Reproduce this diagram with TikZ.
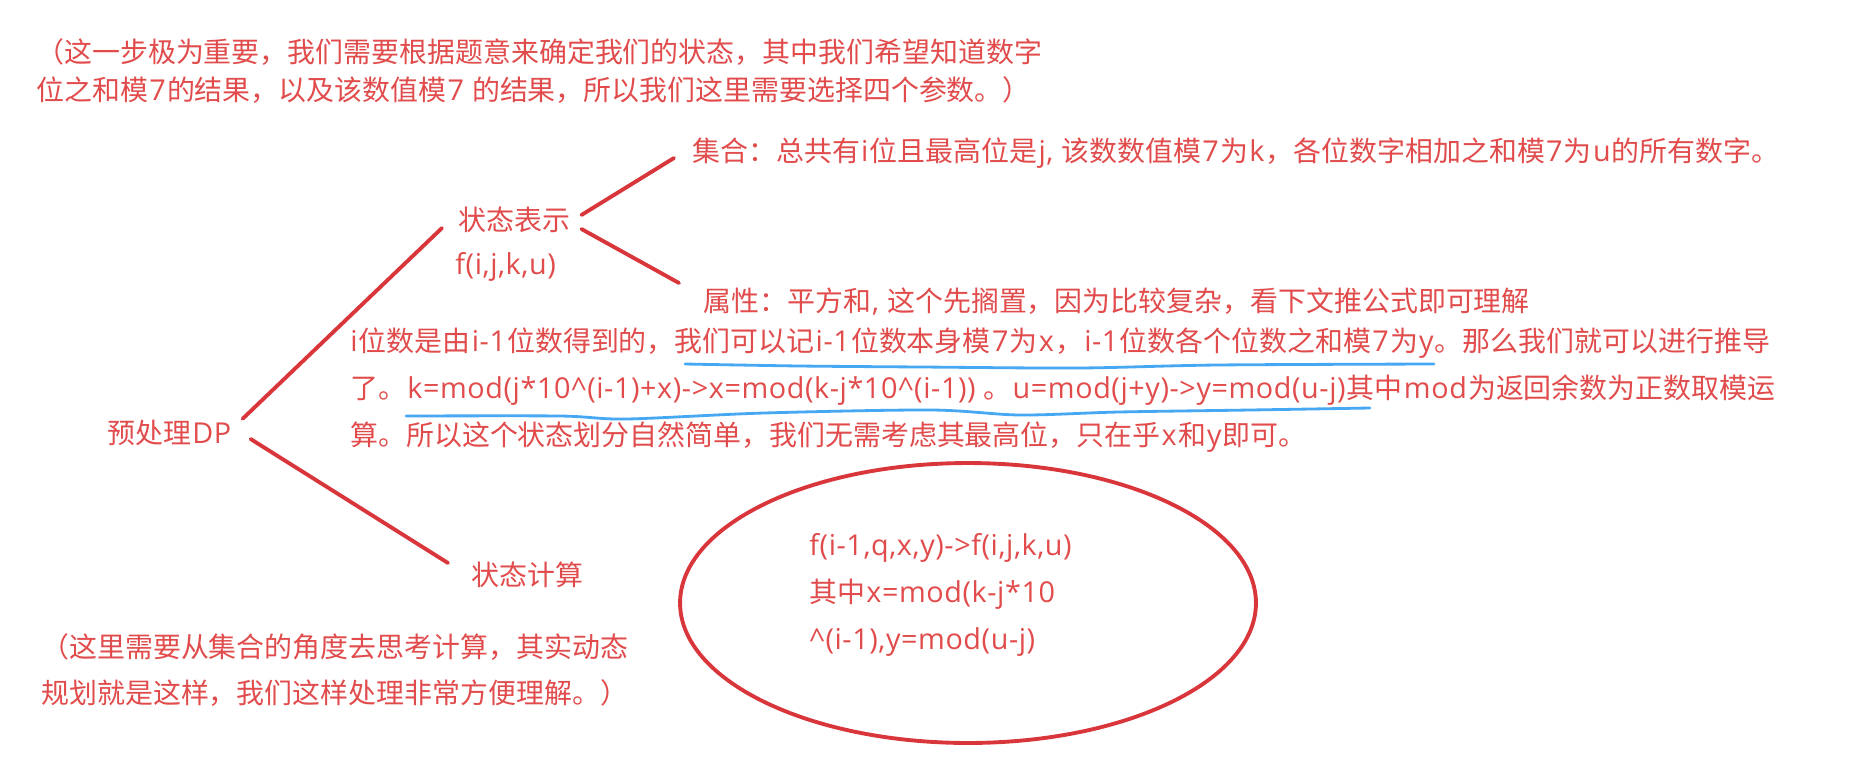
\documentclass[tikz,border=0pt]{standalone}
\usepackage{fontspec}
\setmainfont[Scale=1.03, LetterSpace=2]{Open Sans}
\newfontfamily\hanzi{Noto Sans CJK SC}
\usetikzlibrary{shapes.geometric}

% switch to the CJK face for Chinese characters and back for Latin ones
\XeTeXinterchartokenstate=1
\newXeTeXintercharclass\hanzicls
\newcount\hz
\hz="3000 \loop\XeTeXcharclass\hz=\hanzicls\ifnum\hz<"303F \advance\hz by 1 \repeat
\hz="4E00 \loop\XeTeXcharclass\hz=\hanzicls\ifnum\hz<"9FFF \advance\hz by 1 \repeat
\hz="FF00 \loop\XeTeXcharclass\hz=\hanzicls\ifnum\hz<"FFEF \advance\hz by 1 \repeat
\XeTeXinterchartoks 0 \hanzicls = {\hskip0.7pt\hanzi}
\XeTeXinterchartoks 4095 \hanzicls = {\hanzi}
\XeTeXinterchartoks \hanzicls 0 = {\hskip0.7pt\rmfamily}

\definecolor{inkred}{HTML}{E14B4B}
\definecolor{linered}{HTML}{D9363C}
\definecolor{penblue}{HTML}{46A8F2}

\begin{document}
\begin{tikzpicture}[x=0.02cm, y=-0.02cm,
    txt/.style={anchor=west, inner sep=0, text=inkred, align=left,
        font=\fontsize{15.9}{22}\selectfont},
    para/.style={txt, font=\fontsize{15.9}{26.6}\selectfont},
    branch/.style={draw=linered, line width=2.2pt, line cap=round},
    wave/.style={draw=penblue, line width=1.6pt, line cap=round}]

    \useasboundingbox (0, 0) rectangle (1876, 782);

    % notes
    \node (topnote) [txt] at (36, 71) {（这一步极为重要，我们需要根据题意来确定我们的状态，其中我们希望知道数字\\位之和模7的结果，以及该数值模7 的结果，所以我们这里需要选择四个参数。）};
    \node (botnote) [para] at (41, 670) {（这里需要从集合的角度去思考计算，其实动态\\规划就是这样，我们这样处理非常方便理解。）};

    % tree
    \node (dp) [txt] at (107, 433) {预处理DP};
    \node (rep) [txt] at (458, 220) {状态表示};
    \node (fn) [txt] at (455, 267) {f(i,j,k,u)};
    \node (calc) [txt] at (471, 575) {状态计算};
    \node (set) [txt] at (692, 153) {集合：总共有i位且最高位是j, 该数数值模7为k，各位数字相加之和模7为u的所有数字。};
    \node (attr) [txt] at (703, 302) {属性：平方和, 这个先搁置，因为比较复杂，看下文推公式即可理解};
    \node (derive) [para] at (350, 390) {i位数是由i-1位数得到的，我们可以记i-1位数本身模7为x，i-1位数各个位数之和模7为y。那么我们就可以进行推导\\了。k=mod(j*10\textasciicircum(i-1)+x)->x=mod(k-j*10\textasciicircum(i-1)) 。u=mod(j+y)->y=mod(u-j)其中mod为返回余数为正数取模运\\算。所以这个状态划分自然简单，我们无需考虑其最高位，只在乎x和y即可。};

    % transition
    \node (ring) [ellipse, draw=linered, line width=2.2pt, minimum width=11.52cm, minimum height=5.6cm] at (968, 603) {};
    \node (trans) [para] at (809, 595) {f(i-1,q,x,y)->f(i,j,k,u)\\其中x=mod(k-j*10\\\textasciicircum(i-1),y=mod(u-j)};

    \path[branch]
    ([shift={(11,-1)}]dp.north east) edge ([shift={(-16,8)}]rep.west)
    ([shift={(19,6)}]dp.east) edge ([shift={(-23,-12)}]calc.west)
    ([shift={(11,-5)}]rep.east) edge ([shift={(-18,5)}]set.west)
    ([shift={(11,9)}]rep.east) edge ([shift={(-24,-19)}]attr.west);

    % pen marks
    \draw[wave] plot[smooth] coordinates {(685,364) (800,366) (922,367) (1079,368) (1217,365) (1434,364)};
    \draw[wave] plot[smooth] coordinates {(406,416) (560,416) (626,419) (764,413) (931,410) (1020,415) (1119,412) (1250,410) (1370,408)};
\end{tikzpicture}
\end{document}
